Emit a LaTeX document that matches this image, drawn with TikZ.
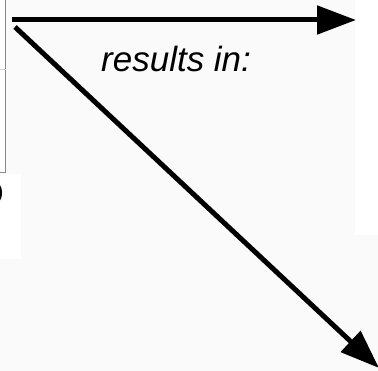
\documentclass[tikz,border=0pt]{standalone}
\usepackage{fontspec}
\setmainfont{Liberation Sans}
\usetikzlibrary{arrows.meta}
\definecolor{paper}{HTML}{FAFAFA}
\definecolor{rule}{HTML}{8A8A8A}
\begin{document}
\begin{tikzpicture}[
  x=1pt, y=-1pt,
  every node/.style={inner sep=0pt, font=\fontsize{35}{42}\selectfont},
  bigarrow/.style={line width=5pt, -{Triangle[length=39pt, width=28pt]}},
  frame/.style={draw=rule, line width=1.5pt},
  label/.style={font=\fontsize{35}{42}\selectfont\itshape}
]
\clip (0,0) rectangle (378,371);
\fill[paper] (0,0) rectangle (378,371);
\fill[white] (355,0) rectangle (378,235);
\fill[white] (0,174) rectangle (21,259);
% table cut off at the left
\fill[white] (-10,-5) rectangle (5.5,172.5);
\draw[frame] (-10,172.5) -- (5.5,172.5) -- (5.5,-5);
\draw[draw=rule!40, line width=1pt] (-10,70) -- (5.5,70);
\node[anchor=east] (cut) at (4,193) {O};
% arrows
\coordinate (src) at (12,20);
\coordinate (srcd) at (15,27);
\coordinate (right) at (356,20);
\coordinate (down) at (379,368);
\draw[bigarrow] (src) -- (right);
\draw[bigarrow] (srcd) -- (down);
\node[label, anchor=base west] (res) at (101,72) {results in:};
\end{tikzpicture}
\end{document}
